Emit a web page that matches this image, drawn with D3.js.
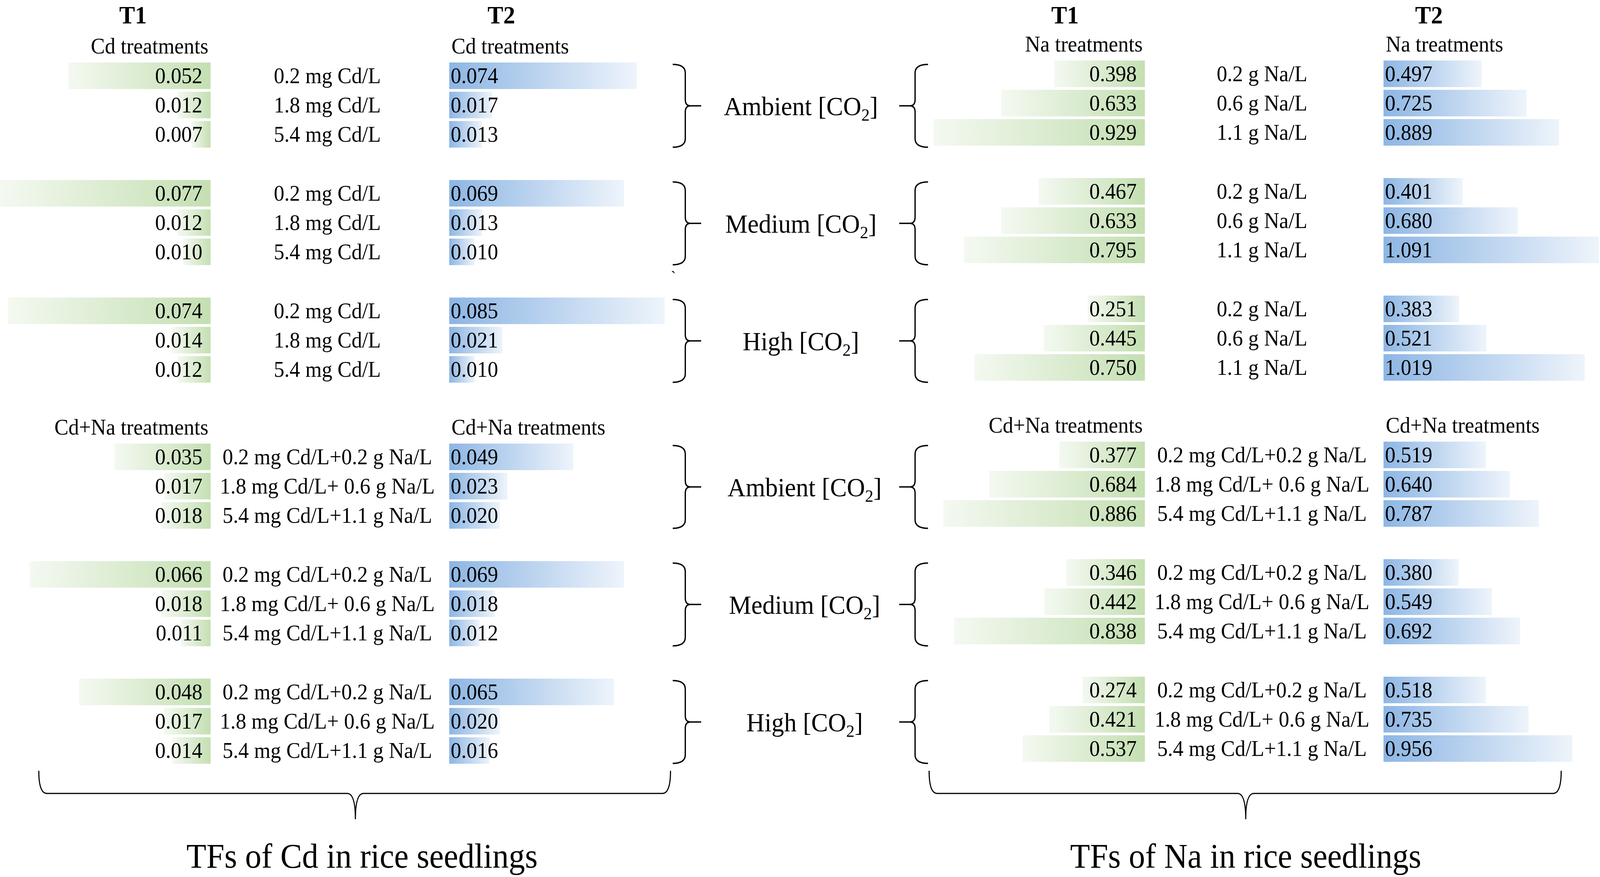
<!DOCTYPE html>
<html>
<head>
<meta charset="utf-8">
<script src="https://cdn.jsdelivr.net/npm/d3@7"></script>
<style>
  html, body { margin: 0; padding: 0; background: #fff; width: 100%; height: 100%; overflow: hidden; }
  svg { display: block; width: 100vw; height: 100vh; font-family: "Liberation Serif", "Times New Roman", serif; }
</style>
</head>
<body>
<svg id="chart"></svg>
<script>
/* 1 · Data (each series: 3 CO2 levels x 3 treatments) */
const co2Levels  = ['Ambient', 'Medium', 'High'];
const cdLabels   = ['0.2 mg Cd/L', '1.8 mg Cd/L', '5.4 mg Cd/L'];
const naLabels   = ['0.2 g Na/L', '0.6 g Na/L', '1.1 g Na/L'];
const cdnaLabels = ['0.2 mg Cd/L+0.2 g Na/L', '1.8 mg Cd/L+ 0.6 g Na/L', '5.4 mg Cd/L+1.1 g Na/L'];

const cdT1     = [0.052, 0.012, 0.007, 0.077, 0.012, 0.010, 0.074, 0.014, 0.012];
const cdT2     = [0.074, 0.017, 0.013, 0.069, 0.013, 0.010, 0.085, 0.021, 0.010];
const cdnaCdT1 = [0.035, 0.017, 0.018, 0.066, 0.018, 0.011, 0.048, 0.017, 0.014];
const cdnaCdT2 = [0.049, 0.023, 0.020, 0.069, 0.018, 0.012, 0.065, 0.020, 0.016];

const naT1     = [0.398, 0.633, 0.929, 0.467, 0.633, 0.795, 0.251, 0.445, 0.750];
const naT2     = [0.497, 0.725, 0.889, 0.401, 0.680, 1.091, 0.383, 0.521, 1.019];
const cdnaNaT1 = [0.377, 0.684, 0.886, 0.346, 0.442, 0.838, 0.274, 0.421, 0.537];
const cdnaNaT2 = [0.519, 0.640, 0.787, 0.380, 0.549, 0.692, 0.518, 0.735, 0.956];

const timeLabels  = ['T1', 'T2'];
const panelTitles = ['TFs of Cd in rice seedlings', 'TFs of Na in rice seedlings'];

/* 2 · Layout */
const W = 4331, H = 2246;
const rowPitch = 75, barH = 68, groupPitch = 301;
const sectionTops = [160, 1136];          // Cd / Na section, Cd+Na section
const fsRow = 57, fsHead = 64, fsCo2 = 68, fsTitle = 88;

// the drawing always fills the whole window
const svg = d3.select('#chart')
  .attr('viewBox', `0 0 ${W} ${H}`)
  .attr('preserveAspectRatio', 'none');

/* 3 · Gradients, like spreadsheet data bars */
const defs = svg.append('defs');
const gGreen = defs.append('linearGradient').attr('id', 'gGreen');
gGreen.append('stop').attr('offset', '0%').attr('stop-color', '#f4f9f1');
gGreen.append('stop').attr('offset', '100%').attr('stop-color', '#c4dfb2');
const gBlue = defs.append('linearGradient').attr('id', 'gBlue');
gBlue.append('stop').attr('offset', '0%').attr('stop-color', '#8db6e4');
gBlue.append('stop').attr('offset', '100%').attr('stop-color', '#eef4fb');

/* 4 · Panels */
const panels = [
  { dy: 0,  t1Right: 570,  t2Left: 1216, labelX: 886,  headT1: 360,  headT2: 1357,
    heads: ['Cd treatments', 'Cd+Na treatments'], labels: [cdLabels, cdnaLabels],
    t1: [cdT1, cdnaCdT1], t2: [cdT2, cdnaCdT2], w1: 571, w2: 583,
    brace: [105, 1815], tip: 962, titleX: 980 },
  { dy: -5, t1Right: 3099, t2Left: 3745, labelX: 3416, headT1: 2883, headT2: 3868,
    heads: ['Na treatments', 'Cd+Na treatments'], labels: [naLabels, cdnaLabels],
    t1: [naT1, cdnaNaT1], t2: [naT2, cdnaNaT2], w1: 572, w2: 583,
    brace: [2515, 4226], tip: 3372, titleX: 3372 }
];

const rowY = (top, i) => top + Math.floor(i / 3) * groupPitch + (i % 3) * rowPitch;

panels.forEach((p, pi) => {
  const g = svg.append('g').attr('transform', `translate(0,${p.dy})`);

  // scales shared by both sections of one column
  const x1 = d3.scaleLinear().domain([0, d3.max(p.t1.flat())]).range([0, p.w1]);
  const x2 = d3.scaleLinear().domain([0, d3.max(p.t2.flat())]).range([0, p.w2]);

  // T1 / T2 headings
  g.selectAll('.time').data(timeLabels).enter().append('text')
    .attr('x', (d, i) => i ? p.headT2 : p.headT1)
    .attr('y', 60 - p.dy)
    .attr('text-anchor', 'middle')
    .attr('font-size', fsHead)
    .attr('font-weight', 'bold')
    .text(d => d);

  sectionTops.forEach((top, si) => {
    const s = g.append('g');

    // section headings
    s.append('text')
      .attr('x', p.t1Right - 6).attr('y', top - 23)
      .attr('text-anchor', 'end').attr('font-size', fsRow)
      .text(p.heads[si]);
    s.append('text')
      .attr('x', p.t2Left + 6).attr('y', top - 23)
      .attr('font-size', fsRow)
      .text(p.heads[si]);

    const t1 = p.t1[si], t2 = p.t2[si];

    // T1 bars grow to the left
    s.selectAll('.b1').data(t1).enter().append('rect')
      .attr('x', d => p.t1Right - x1(d))
      .attr('y', (d, i) => rowY(top, i))
      .attr('width', d => x1(d))
      .attr('height', barH)
      .attr('fill', 'url(#gGreen)');
    s.selectAll('.v1').data(t1).enter().append('text')
      .attr('x', p.t1Right - 22)
      .attr('y', (d, i) => rowY(top, i) + 53)
      .attr('text-anchor', 'end').attr('font-size', fsRow)
      .text(d => d3.format('.3f')(d));

    // T2 bars grow to the right
    s.selectAll('.b2').data(t2).enter().append('rect')
      .attr('x', p.t2Left)
      .attr('y', (d, i) => rowY(top, i))
      .attr('width', d => x2(d))
      .attr('height', barH)
      .attr('fill', 'url(#gBlue)');
    s.selectAll('.v2').data(t2).enter().append('text')
      .attr('x', p.t2Left + 4)
      .attr('y', (d, i) => rowY(top, i) + 53)
      .attr('font-size', fsRow)
      .text(d => d3.format('.3f')(d));

    // treatment labels in the middle
    s.selectAll('.lab').data(d3.range(9)).enter().append('text')
      .attr('x', p.labelX)
      .attr('y', i => rowY(top, i) + 53)
      .attr('text-anchor', 'middle').attr('font-size', fsRow)
      .text(i => p.labels[si][i % 3]);
  });

  // bottom brace + title
  const [bx1, bx2] = p.brace, t = p.tip, by = 2032;
  svg.append('path')
    .attr('d', `M${bx1},1974 Q${bx1},${by} ${bx1 + 22},${by} H${t - 22} Q${t},${by} ${t},2098 ` +
               `Q${t},${by} ${t + 22},${by} H${bx2 - 22} Q${bx2},${by} ${bx2},1974`)
    .attr('fill', 'none').attr('stroke', '#000').attr('stroke-width', 3);
  svg.append('text')
    .attr('x', p.titleX).attr('y', 2222)
    .attr('text-anchor', 'middle').attr('font-size', fsTitle)
    .text(panelTitles[pi]);
});

/* 5 · CO2 levels with curly braces on both sides */
const labelCx = [2168, 2178];
sectionTops.forEach((top, si) => {
  co2Levels.forEach((lvl, gi) => {
    const y0 = top + gi * groupPitch + 5;
    const y1 = top + gi * groupPitch + 2 * rowPitch + barH - 1;
    const m = (y0 + y1) / 2;

    // "}" closing the left panel, "{" opening the right one
    [[1821, 1855, 1898], [2512, 2477, 2434]].forEach(([x0, xv, xt]) => {
      const k = xt > xv ? 14 : -14;
      svg.append('path')
        .attr('d', `M${x0},${y0} Q${xv},${y0} ${xv},${y0 + 22} V${m - 16} Q${xv},${m} ${xv + k},${m} H${xt} ` +
                   `M${xv + k},${m} Q${xv},${m} ${xv},${m + 16} V${y1 - 22} Q${xv},${y1} ${x0},${y1}`)
        .attr('fill', 'none').attr('stroke', '#000').attr('stroke-width', 3.5);
    });

    const tx = svg.append('text')
      .attr('x', labelCx[si]).attr('y', m + 24)
      .attr('text-anchor', 'middle').attr('font-size', fsCo2);
    tx.append('tspan').text(`${lvl} [CO`);
    tx.append('tspan').attr('font-size', 45).attr('dy', 14).text('2');
    tx.append('tspan').attr('dy', -14).text(']');
  });
});

// small stray tick present in the original figure
svg.append('text')
  .attr('x', 1816).attr('y', 722)
  .attr('font-size', 40)
  .text('`');
</script>
</body>
</html>
